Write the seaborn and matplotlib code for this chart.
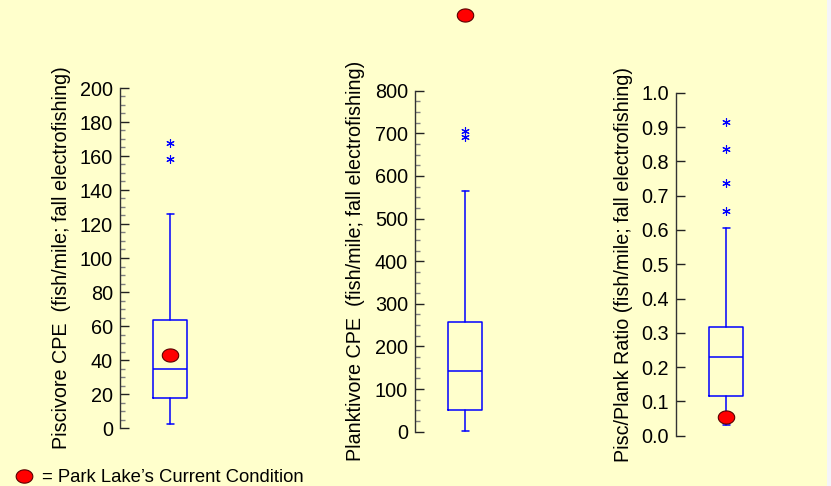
import numpy as np
import matplotlib
matplotlib.use("Agg")
import matplotlib.pyplot as plt
from matplotlib.path import Path
from matplotlib.lines import Line2D
from matplotlib.ticker import MultipleLocator
import seaborn as sns

# Summary statistics for each metric (statewide distribution)
metrics = ["Piscivore CPE", "Planktivore CPE", "Pisc/Plank Ratio"]
ylabels = [
    "Piscivore CPE  (fish/mile; fall electrofishing)",
    "Planktivore CPE  (fish/mile; fall electrofishing)",
    "Pisc/Plank Ratio (fish/mile; fall electrofishing)",
]
whisker_low = [2.5, 2.5, 0.031]
q1 = [17.6, 51.0, 0.116]
median = [34.7, 142.5, 0.229]
q3 = [63.5, 257.0, 0.316]
whisker_high = [126.0, 565.0, 0.605]
outliers = [
    [158.5, 167.6],
    [691.0, 706.0],
    [0.655, 0.736, 0.835, 0.915],
]
# Park Lake's current condition
park_lake = [43.0, 978.0, 0.055]

# Axis settings
y_max = [200, 800, 1.0]
major_step = [20, 100, 0.1]
minor_step = [5, 25, None]
tick_fmt = ["{:.0f}", "{:.0f}", "{:.1f}"]

BG = "#FFFFCC"
BLUE = "#0000FF"

sns.set_theme(style="ticks", rc={
    "figure.facecolor": BG,
    "axes.facecolor": BG,
    "savefig.facecolor": BG,
})
plt.rcParams["font.family"] = ["Liberation Sans", "DejaVu Sans"]

W, H = 831, 486
fig = plt.figure(figsize=(W / 100, H / 100), dpi=100)

# axes placement in pixels: spine x, y of zero tick, y of top tick, label x
panel_px = [
    (120, 428.0, 88.0, -0.49),
    (415, 431.7, 90.7, -0.50),
    (676, 435.7, 92.7, -0.43),
]

# Slightly flattened ellipse used as the current-condition marker
t = np.linspace(0, 2 * np.pi, 60)
ellipse = Path(np.column_stack([np.cos(t), 0.8 * np.sin(t)]), closed=True)

for i in range(3):
    left, y0, y1, lab_x = panel_px[i]
    ax = fig.add_axes([left / W, (H - y0) / H, 100 / W, (y0 - y1) / H])
    ax.set_facecolor(BG)
    ax.patch.set_alpha(0)

    stats = [{
        "med": median[i], "q1": q1[i], "q3": q3[i],
        "whislo": whisker_low[i], "whishi": whisker_high[i],
        "fliers": outliers[i],
    }]
    ax.bxp(
        stats, positions=[0], widths=0.68, capwidths=0.14,
        boxprops=dict(color=BLUE, linewidth=1.1),
        medianprops=dict(color=BLUE, linewidth=1.1),
        whiskerprops=dict(color=BLUE, linewidth=1.1),
        capprops=dict(color=BLUE, linewidth=1.1),
        flierprops=dict(marker=(6, 2, 0), markersize=6,
                        markeredgecolor=BLUE, markerfacecolor=BLUE,
                        markeredgewidth=0.8, linestyle="none"),
        manage_ticks=False,
    )

    sns.scatterplot(x=[0], y=[park_lake[i]], ax=ax, marker=ellipse, s=140,
                    color="#FF0000", edgecolor="#5a0000", linewidth=0.8,
                    clip_on=False, zorder=6, legend=False)

    ax.set_xlim(-1, 1)
    ax.set_ylim(0, y_max[i])
    ax.set_xticks([])
    for s in ("top", "right", "bottom"):
        ax.spines[s].set_visible(False)
    ax.spines["left"].set_color("#333333")
    ax.spines["left"].set_linewidth(1.0)

    ax.set_yticks(np.round(np.arange(0, y_max[i] + major_step[i] / 2, major_step[i]), 3))
    ax.set_yticklabels([tick_fmt[i].format(v) for v in ax.get_yticks()])
    ax.tick_params(axis="y", which="major", direction="in", length=6.5,
                   width=1.0, color="#222222", pad=5, labelsize=14.3,
                   labelcolor="black")
    if minor_step[i]:
        ax.yaxis.set_minor_locator(MultipleLocator(minor_step[i]))
        ax.tick_params(axis="y", which="minor", direction="in", length=3.5,
                       width=1.0, color="#808080")

    ax.set_ylabel(ylabels[i], fontsize=14.2, color="black")
    ax.yaxis.set_label_coords(lab_x, 0.5)

# Key for the red marker
fig.add_artist(Line2D([24 / W], [1 - 476 / H], transform=fig.transFigure,
                      marker=ellipse, markersize=12, linestyle="none",
                      markerfacecolor="#FF0000", markeredgecolor="#5a0000",
                      markeredgewidth=0.8))
fig.text(42 / W, 1 - 477 / H, "= Park Lake\u2019s Current Condition",
         fontsize=13.3, va="center", ha="left", color="black")

# thin light strip along the right border
fig.add_artist(plt.Rectangle((827 / W, 0), 4 / W, 1, transform=fig.transFigure,
                             facecolor="#F4F4FA", edgecolor="none"))

fig.savefig("out.png", dpi=100)
